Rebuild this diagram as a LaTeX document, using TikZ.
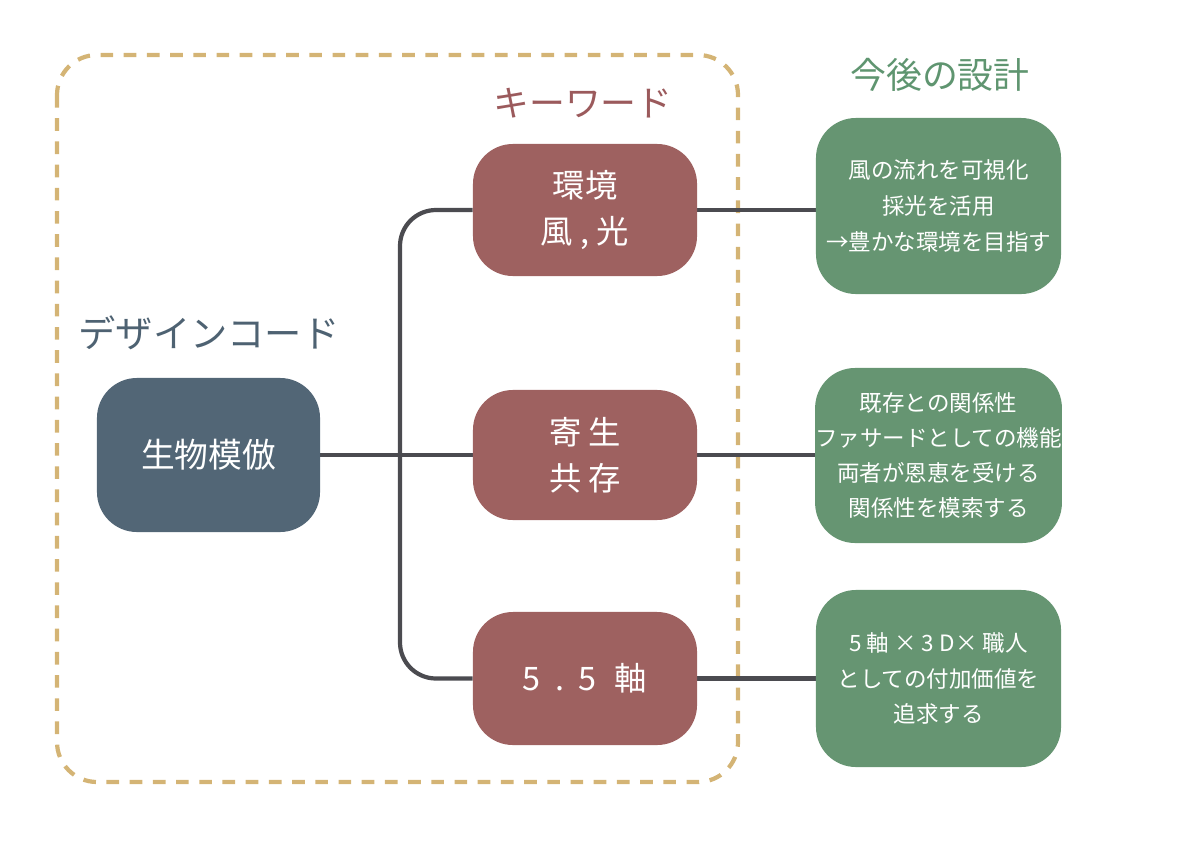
\documentclass[tikz,border=0pt]{standalone}
\usepackage{fontspec}
\usetikzlibrary{backgrounds}
\setmainfont{Noto Sans CJK JP}
\definecolor{dashc}{HTML}{D4B475}
\definecolor{kred}{HTML}{9E6160}
\definecolor{kredt}{HTML}{9B5A5C}
\definecolor{slate}{HTML}{526676}
\definecolor{slatet}{HTML}{4E6272}
\definecolor{gbox}{HTML}{669572}
\definecolor{gtitle}{HTML}{5F9570}
\definecolor{linec}{HTML}{4B4B50}
\tikzset{
  box/.style={rounded corners=1cm, inner sep=0pt, align=center, text=white},
  mainbox/.style={box, fill=slate, minimum width=5.575cm, minimum height=3.85cm, font=\fontsize{24}{30}\selectfont},
  keybox/.style={box, fill=kred, minimum width=5.6cm, font=\fontsize{23}{33}\selectfont},
  planbox/.style={box, fill=gbox, minimum width=6.125cm, minimum height=4.4cm, font=\fontsize{16}{25.3}\selectfont},
  title/.style={font=\fontsize{25.5}{30}\selectfont},
  conn/.style={draw=linec, line width=3pt},
}
\begin{document}
\begin{tikzpicture}[x=0.025cm,y=-0.025cm]
\useasboundingbox (0,0) rectangle (1200,840);
\node[title, text=kredt] (tkw) at (583,103) {キーワード};
\node[title, text=gtitle] (tplan) at (940,75) {今後の設計};
\node[title, text=slatet, font=\fontsize{26.5}{30}\selectfont] (tdc) at (209,333) {デザインコード};
\coordinate (bus) at (400,455);
\node[mainbox] (main) at (208.5,455) {生物模倣};
\node[keybox, minimum height=3.3cm] (k1) at (585,210) {環境\\風 , 光};
\node[keybox, minimum height=3.25cm] (k2) at (585,455) {寄 生\\共 存};
\node[keybox, minimum height=3.325cm] (k3) at (585,678.5) {5\hspace{0.45em}.\hspace{0.45em}5\hspace{0.55em}軸};
\node[planbox] (g1) at (938.5,206) {風の流れを可視化\\採光を活用\\→豊かな環境を目指す};
\node[planbox, minimum height=4.375cm, font=\fontsize{16}{24.8}\selectfont] (g2) at (938.5,455.5) {既存との関係性\\ファサードとしての機能\\両者が恩恵を受ける\\関係性を模索する};
\node[planbox, minimum height=4.425cm] (g3) at (938.5,678.5) {5 軸 × 3\hspace{0.25em}D× 職人\\としての付加価値を\\追求する};
\begin{scope}[on background layer]
\draw[dashc, line width=3pt, dash pattern=on 9pt off 7.5pt, rounded corners=1cm] (57,55) rectangle (738,782);
\draw[conn] (main.east) -- (k2.west);
\draw[conn, rounded corners=0.9cm] (k1.west) -| (bus) |- (k3.west);
\draw[conn] (k1.east) -- (g1.west |- k1.east);
\draw[conn] (k2.east) -- (g2.west |- k2.east);
\draw[conn] (k3.east) -- (g3.west |- k3.east);
\end{scope}
\end{tikzpicture}
\end{document}
